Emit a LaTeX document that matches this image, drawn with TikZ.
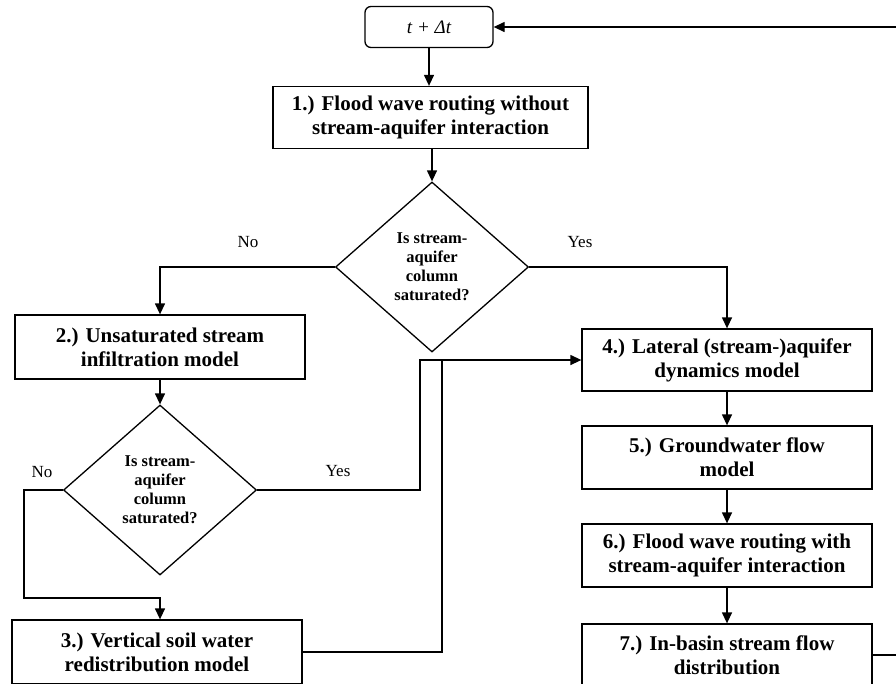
\documentclass[tikz,border=0pt]{standalone}
\usepackage{fontspec}
\setmainfont{Liberation Serif}
\usetikzlibrary{shapes.geometric,arrows.meta}
\begin{document}
\begin{tikzpicture}[x=1pt,y=-1pt,
  every path/.style={line width=1.3pt},
  proc/.style={draw,rectangle,line width=1.3pt,align=center,inner sep=2pt,
    font=\fontsize{21}{24}\selectfont\bfseries},
  decision/.style={draw,diamond,line width=1.3pt,align=center,inner sep=0pt,
    minimum width=193pt,minimum height=170pt,aspect=1.13,
    font=\fontsize{16.5}{19}\selectfont\bfseries},
  lbl/.style={font=\fontsize{17}{19}\selectfont},
  arr/.style={-{Triangle[length=11pt,width=10pt]}}]
\useasboundingbox (0,0) rectangle (896,683);
\node[draw,rounded corners=6pt,line width=1.3pt,minimum width=128pt,minimum height=41pt,
  font=\fontsize{19}{22}\selectfont] (t) at (429,27) {\itshape t + Δt};
\node[proc,minimum width=315pt,minimum height=62pt] (b1) at (430.5,117.5)
  {1.) Flood wave routing without\\stream-aquifer interaction};
\node[decision] (d1) at (432,267) {Is stream-\\aquifer\\column\\saturated?};
\node[proc,minimum width=290pt,minimum height=64pt] (b2) at (160,347)
  {2.) Unsaturated stream\\infiltration model};
\node[decision] (d2) at (160,490) {Is stream-\\aquifer\\column\\saturated?};
\node[proc,minimum width=290pt,minimum height=64pt] (b3) at (157,652)
  {3.) Vertical soil water\\redistribution model};
\node[proc,minimum width=290pt,minimum height=62pt] (b4) at (727,360)
  {4.) Lateral (stream-)aquifer\\dynamics model};
\node[proc,minimum width=290pt,minimum height=63pt] (b5) at (727,457.5)
  {5.) Groundwater flow\\model};
\node[proc,minimum width=290pt,minimum height=63pt] (b6) at (727,555.5)
  {6.) Flood wave routing with\\stream-aquifer interaction};
\node[proc,minimum width=290pt,minimum height=62pt] (b7) at (727,655)
  {7.) In-basin stream flow\\distribution};
\node[lbl] (no1) at (248,242) {No};
\node[lbl] (yes1) at (580,242) {Yes};
\node[lbl] (no2) at (42,472) {No};
\node[lbl] (yes2) at (338,471) {Yes};
\coordinate (n1) at (24,598);
\coordinate (j1) at (420,360);
\coordinate (j2) at (442,360);
\coordinate (fb) at (910,27);
\draw[arr] (t.south) -- (t.south |- b1.north);
\draw[arr] (b1.south -| d1.north) -- (d1.north);
\draw[arr] (d1.west) -| (b2.north);
\draw[arr] (d1.east) -| (b4.north);
\draw[arr] (b2.south) -- (d2.north);
\draw[arr] (d2.west) -| (n1) -| (b3.north -| d2.south);
\draw[arr] (d2.east) -| (j1) -- (b4.west);
\draw (b3.east) -| (j2);
\draw[arr] (b4) -- (b5);
\draw[arr] (b5) -- (b6);
\draw[arr] (b6) -- (b7);
\draw[arr] (b7.east) -| (fb) -- (t.east);
\end{tikzpicture}
\end{document}
